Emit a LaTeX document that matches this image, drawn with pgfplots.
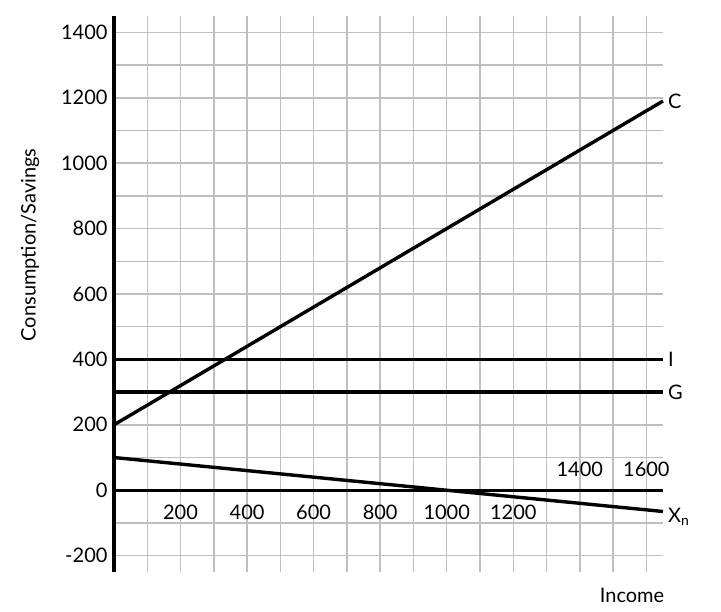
\documentclass[border=0pt]{standalone}
\usepackage{pgfplots}
\pgfplotsset{compat=1.18}
\usepackage{fontspec}
\setmainfont{Lato}
\begin{document}
\begin{tikzpicture}[font=\fontsize{20pt}{24pt}\selectfont]
\useasboundingbox (-114pt,-40pt) rectangle (607pt,572pt);
\begin{axis}[
  at={(0,0)}, anchor=south west,
  scale only axis, width=549pt, height=556pt,
  xmin=0, xmax=1650, ymin=-250, ymax=1450,
  axis line style={draw=none},
  xtick={100,200,...,1600}, xticklabels={},
  ytick={-200,0,...,1400},
  minor ytick={-100,100,...,1300},
  major tick length=0pt, minor tick length=0pt,
  grid=both,
  major grid style={draw=black!25, line width=1.5pt},
  minor grid style={draw=black!25, line width=1.5pt},
  tick label style={font=\fontsize{20pt}{24pt}\selectfont},
  yticklabel style={xshift=-3pt},
  /pgf/number format/assume math mode=true,
  /pgf/number format/1000 sep={},
  clip=false,
]
\addplot[black, line width=4pt] coordinates {(0,-250) (0,1450)};
\addplot[black, line width=3.4pt] coordinates {(0,0) (1650,0)};
\addplot[black, line width=3.4pt] coordinates {(0,400) (1650,400)};
\addplot[black, line width=3.4pt] coordinates {(0,300) (1650,300)};
\addplot[black, line width=3.4pt] coordinates {(0,200) (1650,1190)};
\addplot[black, line width=3.4pt] coordinates {(0,100) (1650,-65)};
\node[anchor=west] at (axis cs:1655,1190) {C};
\node[anchor=west] at (axis cs:1655,400) {I};
\node[anchor=west] at (axis cs:1655,300) {G};
\node[anchor=west] at (axis cs:1655,-80) {X\textsubscript{n}};
\pgfplotsinvokeforeach{200,400,600,800,1000,1200}{
  \node at (axis cs:#1,-67) {#1};
}
\node at (axis cs:1400,64) {1400};
\node at (axis cs:1600,64) {1600};
\node at (axis cs:1557,-323) {Income};
\node[rotate=90] at (axis cs:-252,750) {Consumption/Savings};
\end{axis}
\end{tikzpicture}
\end{document}
